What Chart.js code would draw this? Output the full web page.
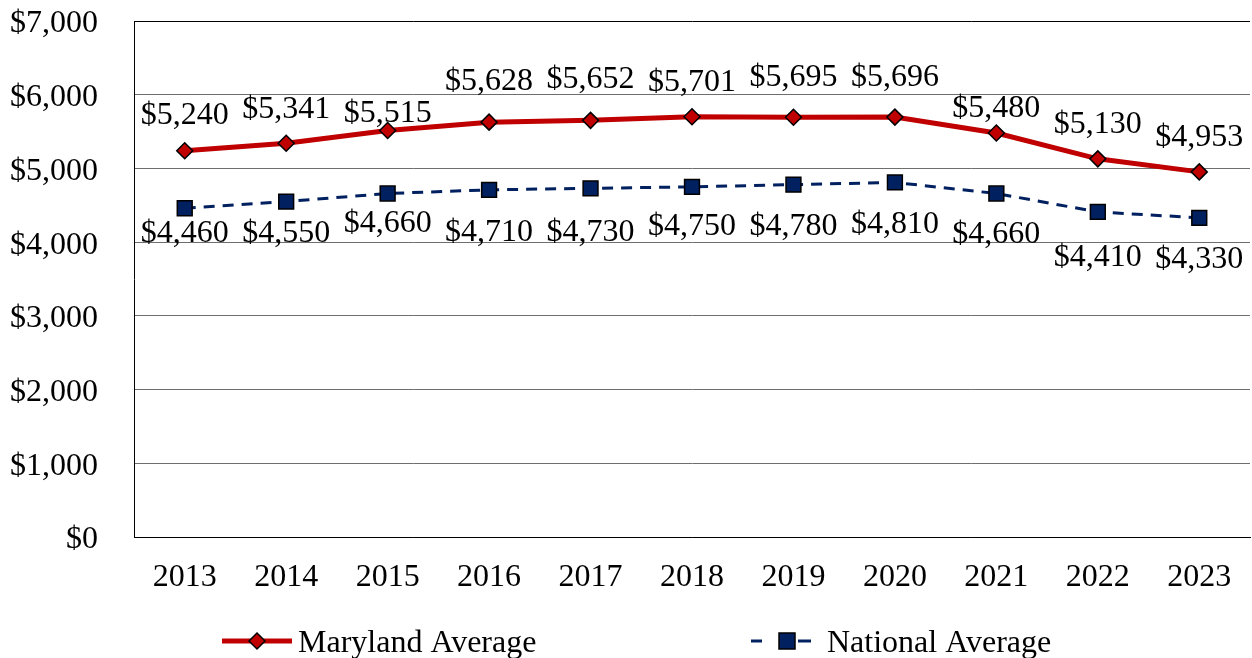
<!DOCTYPE html>
<html>
<head>
<meta charset="utf-8">
<script src="https://cdn.jsdelivr.net/npm/chart.js@4/dist/chart.umd.min.js"></script>
<style>
  html, body { margin: 0; padding: 0; background: #ffffff; }
  #wrap { width: 1252px; height: 658px; position: relative; }
</style>
</head>
<body>
<div id="wrap"><canvas id="c" width="1252" height="658"></canvas></div>
<script>
// ---- Data ----
const years = ['2013','2014','2015','2016','2017','2018','2019','2020','2021','2022','2023'];
const marylandAvg = [5240, 5341, 5515, 5628, 5652, 5701, 5695, 5696, 5480, 5130, 4953];
const nationalAvg = [4460, 4550, 4660, 4710, 4730, 4750, 4780, 4810, 4660, 4410, 4330];
const seriesNames = ['Maryland Average', 'National Average'];
const yTicks = [0, 1000, 2000, 3000, 4000, 5000, 6000, 7000];

// ---- Label placement (layout only) ----
const mdLabelDy  = [-35, -34, -17, -41, -41, -34, -40, -40, -24, -34, -34];
const natLabelDy = [ 25,  32,  30,  43,  44,  40,  42,  42,  41,  46,  42];

const FONT = "'Liberation Serif', 'Times New Roman', serif";
const FSIZE = 32;
const RED = '#C00000';
const NAVY = '#002060';

function money(v) { return '$' + Number(v).toLocaleString('en-US'); }

const dataLabels = {
  id: 'dataLabels',
  afterDatasetsDraw(chart) {
    const ctx = chart.ctx;
    ctx.save();
    ctx.font = FSIZE + 'px ' + FONT;
    ctx.fillStyle = '#000';
    ctx.textAlign = 'center';
    ctx.textBaseline = 'middle';
    const offs = [mdLabelDy, natLabelDy];
    chart.data.datasets.forEach((ds, di) => {
      const meta = chart.getDatasetMeta(di);
      meta.data.forEach((pt, i) => {
        ctx.fillText(money(ds.data[i]), pt.x, pt.y + offs[di][i]);
      });
    });
    ctx.restore();
  }
};

const customLegend = {
  id: 'customLegend',
  afterDraw(chart) {
    const ctx = chart.ctx;
    const y = 641;
    ctx.save();
    // Maryland
    ctx.strokeStyle = RED; ctx.lineWidth = 5; ctx.setLineDash([]);
    ctx.beginPath(); ctx.moveTo(222, y); ctx.lineTo(292, y); ctx.stroke();
    ctx.fillStyle = RED; ctx.strokeStyle = '#000'; ctx.lineWidth = 1.5;
    ctx.beginPath();
    ctx.moveTo(257, y - 8); ctx.lineTo(265, y); ctx.lineTo(257, y + 8); ctx.lineTo(249, y); ctx.closePath();
    ctx.fill(); ctx.stroke();
    // National
    ctx.strokeStyle = NAVY; ctx.lineWidth = 3;
    ctx.beginPath(); ctx.moveTo(751, y); ctx.lineTo(762, y); ctx.stroke();
    ctx.beginPath(); ctx.moveTo(798, y); ctx.lineTo(811, y); ctx.stroke();
    ctx.fillStyle = NAVY; ctx.strokeStyle = '#000'; ctx.lineWidth = 1.5;
    ctx.beginPath(); ctx.rect(779, y - 8, 16, 16); ctx.fill(); ctx.stroke();
    // Text
    ctx.font = FSIZE + 'px ' + FONT;
    ctx.fillStyle = '#000';
    ctx.textAlign = 'left';
    ctx.textBaseline = 'middle';
    ctx.fillText(seriesNames[0], 298, y + 3);
    ctx.fillText(seriesNames[1], 827, y + 3);
    ctx.restore();
  }
};

new Chart(document.getElementById('c'), {
  type: 'line',
  data: {
    labels: years,
    datasets: [
      {
        label: seriesNames[0],
        data: marylandAvg,
        borderColor: RED,
        borderWidth: 5,
        backgroundColor: RED,
        pointStyle: 'rectRot',
        pointRadius: 8,
        pointHoverRadius: 8,
        pointBackgroundColor: RED,
        pointBorderColor: '#000',
        pointBorderWidth: 1.5,
        tension: 0,
        fill: false
      },
      {
        label: seriesNames[1],
        data: nationalAvg,
        borderColor: NAVY,
        borderWidth: 3,
        borderDash: [11, 8],
        backgroundColor: NAVY,
        pointStyle: 'rect',
        pointRadius: 10.5,
        pointHoverRadius: 10.5,
        pointBackgroundColor: NAVY,
        pointBorderColor: '#000',
        pointBorderWidth: 1.5,
        tension: 0,
        fill: false
      }
    ]
  },
  options: {
    responsive: false,
    animation: false,
    events: [],
    layout: { autoPadding: false, padding: { top: 21, right: 2, bottom: 41, left: 0 } },
    plugins: {
      legend: { display: false },
      tooltip: { enabled: false },
      title: { display: false }
    },
    scales: {
      x: {
        offset: true,
        grid: { display: false, drawTicks: false },
        border: { display: true, color: '#000', width: 1 },
        ticks: { color: '#000', font: { family: FONT, size: FSIZE }, padding: 21, autoSkip: false, maxRotation: 0 },
        afterFit(scale) { scale.height = 80; scale.paddingLeft = 0; scale.paddingRight = 0; }
      },
      y: {
        min: 0,
        max: 7000,
        afterBuildTicks(scale) { scale.ticks = yTicks.map(v => ({ value: v })); },
        grid: {
          drawTicks: false,
          color: (c) => (c.tick && c.tick.value === 7000) ? '#000' : '#6e6e6e',
          lineWidth: 1
        },
        border: { display: true, color: '#000', width: 1 },
        ticks: {
          color: '#000',
          font: { family: FONT, size: FSIZE },
          padding: 36,
          labelOffset: 3,
          callback: (v) => money(v)
        },
        afterFit(scale) { scale.width = 134; scale.paddingTop = 0; scale.paddingBottom = 0; }
      }
    }
  },
  plugins: [dataLabels, customLegend]
});
</script>
</body>
</html>
